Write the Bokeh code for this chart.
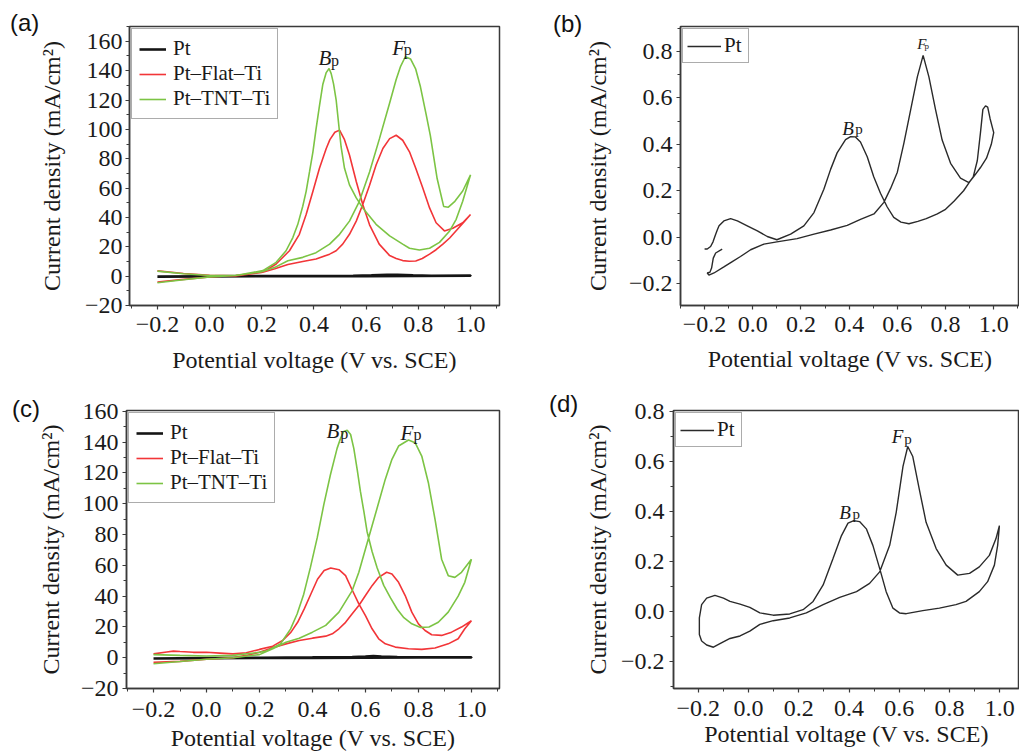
from bokeh.plotting import figure
from bokeh.layouts import column, row
from bokeh.models import FixedTicker, Legend, LegendItem, Label, Range1d, Div
from bokeh.embed import file_html
from bokeh.resources import INLINE

SERIF = "Liberation Serif"
SANS = "Liberation Sans"
RED = "#f23538"
GREEN = "#7cc444"
BLACK = "#151515"
CURVE = "#2a2a2a"
FRAME = "#3a3a3a"

# ---------------- ticks / texts ----------------
X_TICKS = [-0.2, 0.0, 0.2, 0.4, 0.6, 0.8, 1.0]
X_TICK_LABELS = ["\u22120.2", "0.0", "0.2", "0.4", "0.6", "0.8", "1.0"]
X_MINOR = [-0.3, -0.1, 0.1, 0.3, 0.5, 0.7, 0.9, 1.1]
Y_TICKS_MA = [-20, 0, 20, 40, 60, 80, 100, 120, 140, 160]
Y_TICK_LABELS_MA = ["\u221220", "0", "20", "40", "60", "80", "100", "120", "140", "160"]
Y_MINOR_MA = [-10, 10, 30, 50, 70, 90, 110, 130, 150, 170]
Y_TICKS_SM = [-0.2, 0.0, 0.2, 0.4, 0.6, 0.8]
Y_TICK_LABELS_SM = ["\u22120.2", "0.0", "0.2", "0.4", "0.6", "0.8"]
Y_MINOR_SM = [-0.3, -0.1, 0.1, 0.3, 0.5, 0.7, 0.9]

X_TITLE = "Potential voltage (V vs. SCE)"
Y_TITLE = "Current density (mA/cm\u00b2)"
SERIES = ["Pt", "Pt\u2013Flat\u2013Ti", "Pt\u2013TNT\u2013Ti"]
PANEL_TAGS = ["(a)", "(b)", "(c)", "(d)"]

# ---------------- panel (a) ----------------
A_PT_FWD_V = [-0.2, 0.0, 0.2, 0.4, 0.55, 0.62, 0.68, 0.72, 0.78, 0.85, 1.0]
A_PT_FWD_J = [-0.3, -0.1, 0.0, 0.1, 0.3, 0.6, 1.0, 0.9, 0.5, 0.3, 0.4]
A_PT_BWD_V = [1.0, 0.8, 0.6, 0.4, 0.2, 0.0, -0.2]
A_PT_BWD_J = [0.3, 0.1, 0.0, -0.1, -0.1, -0.2, -0.3]

A_FLAT_FWD_V = [-0.2, -0.1, 0.0, 0.1, 0.2, 0.25, 0.3, 0.357, 0.408, 0.46, 0.485, 0.51, 0.536, 0.562,
                0.587, 0.613, 0.638, 0.664, 0.69, 0.715, 0.74, 0.766, 0.79, 0.817, 0.843, 0.868, 0.9,
                0.932, 0.97, 1.0]
A_FLAT_FWD_J = [-4.0, -2.2, -0.6, 0.4, 2.5, 5.0, 7.9, 10.0, 11.7, 15.0, 17.3, 21.8, 28.5, 37.5,
                48.8, 62.0, 75.7, 87.0, 93.7, 96.0, 92.6, 84.7, 73.5, 60.0, 46.5, 36.4, 30.8,
                32.6, 36.4, 42.0]
A_FLAT_BWD_V = [1.0, 0.975, 0.95, 0.92, 0.894, 0.868, 0.843, 0.815, 0.79, 0.765, 0.74, 0.715, 0.69,
                0.65, 0.613, 0.587, 0.562, 0.536, 0.517, 0.498, 0.48, 0.461, 0.447, 0.421, 0.396,
                0.37, 0.344, 0.306, 0.255, 0.204, 0.1, 0.0, -0.1, -0.2]
A_FLAT_BWD_J = [42.0, 37.0, 32.0, 26.0, 21.8, 18.0, 15.0, 12.0, 10.3, 10.2, 10.6, 12.0, 14.0,
                21.8, 35.0, 48.8, 64.5, 82.5, 93.0, 99.5, 98.0, 93.0, 87.0, 73.5, 57.8,
                42.0, 28.5, 17.3, 8.3, 2.7, 0.2, 0.6, 1.8, 3.6]

A_TNT_FWD_V = [-0.2, -0.1, 0.0, 0.1, 0.2, 0.25, 0.3, 0.357, 0.408, 0.46, 0.498, 0.536, 0.574, 0.613,
               0.651, 0.69, 0.715, 0.732, 0.75, 0.77, 0.79, 0.808, 0.83, 0.846, 0.872, 0.897, 0.915,
               0.94, 0.97, 1.0]
A_TNT_FWD_J = [-4.5, -2.5, -0.5, 0.5, 3.0, 6.0, 10.5, 12.8, 16.0, 21.8, 28.5, 37.5, 51.0, 71.0,
               93.7, 118.0, 134.0, 143.0, 149.5, 148.0, 141.0, 129.0, 110.0, 95.7, 66.5, 47.5, 47.0,
               51.0, 58.0, 69.0]
A_TNT_BWD_V = [1.0, 0.985, 0.97, 0.945, 0.92, 0.881, 0.843, 0.804, 0.766, 0.74, 0.69, 0.638, 0.587,
               0.562, 0.536, 0.517, 0.504, 0.495, 0.485, 0.475, 0.466, 0.458, 0.447, 0.434, 0.421,
               0.408, 0.396, 0.383, 0.37, 0.357, 0.338, 0.319, 0.293, 0.255, 0.204, 0.1, 0.0, -0.1, -0.2]
A_TNT_BWD_J = [69.0, 60.0, 51.0, 38.7, 30.8, 23.0, 19.0, 17.8, 19.0, 21.8, 27.4, 35.3, 46.5,
               53.3, 62.2, 73.5, 88.0, 103.0, 120.0, 131.0, 138.0, 141.5, 138.7, 130.8, 116.0,
               100.4, 84.7, 71.2, 57.8, 47.6, 35.3, 26.3, 17.3, 9.4, 3.8, 0.4, 0.4, 1.6, 3.4]

# ---------------- panel (b) ----------------
B_PT_FWD_V = [-0.127, -0.154, -0.164, -0.171, -0.178, -0.189, -0.182, -0.161, -0.12, -0.085, -0.051,
              -0.009, 0.046, 0.1, 0.184, 0.254, 0.323, 0.392, 0.447, 0.503, 0.544, 0.572, 0.6, 0.627,
              0.655, 0.683, 0.707, 0.731, 0.759, 0.786, 0.821, 0.862, 0.897, 0.915, 0.932, 0.945,
              0.955, 0.966, 0.975, 0.985, 1.0]
B_PT_FWD_J = [-0.051, -0.068, -0.09, -0.133, -0.151, -0.154, -0.163, -0.154, -0.128, -0.105, -0.083,
              -0.054, -0.03, -0.02, -0.006, 0.013, 0.031, 0.051, 0.077, 0.1, 0.15, 0.21, 0.28, 0.404,
              0.547, 0.69, 0.783, 0.69, 0.547, 0.418, 0.318, 0.254, 0.235, 0.26, 0.33, 0.45,
              0.55, 0.565, 0.56, 0.51, 0.45]
B_PT_BWD_V = [1.0, 0.99, 0.97, 0.945, 0.918, 0.9, 0.875, 0.835, 0.8, 0.766, 0.72, 0.685, 0.648, 0.615,
              0.585, 0.558, 0.53, 0.502, 0.475, 0.447, 0.425, 0.406, 0.385, 0.35, 0.323, 0.295, 0.254,
              0.212, 0.157, 0.1, 0.06, 0.019, -0.023, -0.064, -0.092, -0.12, -0.14, -0.147, -0.154,
              -0.165, -0.175, -0.189, -0.2]
B_PT_BWD_J = [0.45, 0.4, 0.34, 0.3, 0.262, 0.238, 0.2, 0.155, 0.12, 0.1, 0.08, 0.068, 0.058, 0.065,
              0.085, 0.13, 0.189, 0.26, 0.346, 0.41, 0.432, 0.433, 0.42, 0.363, 0.292, 0.206, 0.106,
              0.049, 0.013, -0.011, 0.003, 0.027, 0.049, 0.07, 0.08, 0.07, 0.049, 0.032, 0.013,
              -0.02, -0.04, -0.051, -0.051]

# ---------------- panel (c) ----------------
C_PT_FWD_V = [-0.2, 0.0, 0.2, 0.4, 0.55, 0.6, 0.63, 0.66, 0.72, 0.85, 1.0]
C_PT_FWD_J = [-0.5, -0.2, 0.0, 0.2, 0.4, 0.7, 1.1, 0.8, 0.4, 0.3, 0.3]
C_PT_BWD_V = [1.0, 0.8, 0.6, 0.4, 0.2, 0.0, -0.2]
C_PT_BWD_J = [0.2, 0.1, 0.0, -0.1, -0.2, -0.3, -0.5]

C_FLAT_FWD_V = [-0.2, -0.1, 0.0, 0.1, 0.15, 0.2, 0.25, 0.3, 0.35, 0.4, 0.45, 0.475, 0.5, 0.525, 0.55,
                0.575, 0.6, 0.625, 0.65, 0.68, 0.7, 0.725, 0.75, 0.775, 0.8, 0.825, 0.85, 0.8875,
                0.925, 0.9625, 1.0]
C_FLAT_FWD_J = [-3.0, -2.4, -1.0, 0.0, 1.5, 3.5, 6.5, 9.0, 11.2, 12.7, 14.0, 15.5, 18.8, 23.0, 28.5,
                33.9, 40.4, 46.8, 52.2, 55.5, 54.4, 49.0, 40.4, 29.6, 22.0, 17.7, 14.9, 14.5,
                16.6, 19.9, 24.0]
C_FLAT_BWD_V = [1.0, 0.975, 0.95, 0.9125, 0.8625, 0.8125, 0.7625, 0.7125, 0.675, 0.65, 0.625, 0.6,
                0.575, 0.55, 0.525, 0.5, 0.469, 0.444, 0.419, 0.394, 0.369, 0.344, 0.319, 0.2875,
                0.25, 0.2, 0.15, 0.1, 0.05, 0.0, -0.05, -0.1, -0.125, -0.15, -0.2]
C_FLAT_BWD_J = [24.0, 18.8, 12.3, 9.0, 6.3, 5.4, 5.8, 6.9, 9.0, 12.3, 18.8, 27.4,
                35.0, 44.0, 53.3, 57.2, 58.3, 56.6, 51.0, 41.4, 31.7, 23.0, 16.6, 11.2,
                7.5, 5.4, 3.2, 2.5, 3.0, 3.5, 3.5, 4.0, 4.3, 3.7, 2.5]

C_TNT_FWD_V = [-0.2, -0.1, 0.0, 0.1, 0.2, 0.25, 0.3, 0.35, 0.4, 0.45, 0.5, 0.55, 0.575, 0.6, 0.625,
               0.65, 0.675, 0.7, 0.725, 0.7625, 0.7875, 0.8125, 0.8375, 0.8625, 0.8875, 0.9125,
               0.9375, 0.9625, 1.0]
C_TNT_FWD_J = [-3.9, -2.5, -1.0, 0.0, 2.0, 5.8, 10.0, 12.7, 16.6, 21.0, 29.6, 43.6, 55.5, 70.6, 85.7,
               100.8, 116.0, 128.9, 137.5, 141.4, 139.7, 131.0, 113.7, 90.0, 64.0, 53.3,
               52.2, 55.5, 64.0]
C_TNT_BWD_V = [1.0, 0.975, 0.95, 0.9125, 0.875, 0.84, 0.808, 0.775, 0.745, 0.72, 0.694, 0.669, 0.644,
               0.625, 0.606, 0.594, 0.581, 0.569, 0.556, 0.544, 0.531, 0.518, 0.505, 0.493, 0.468,
               0.443, 0.418, 0.392, 0.367, 0.342, 0.317, 0.279, 0.229, 0.2, 0.1, 0.0, -0.1, -0.2]
C_TNT_BWD_J = [64.0, 49.0, 40.0, 29.6, 23.0, 20.0, 19.7, 22.0, 26.0, 31.5, 39.0, 47.0, 58.5,
               69.0, 82.0, 95.0, 108.0, 122.0, 136.0, 145.0, 147.8, 147.0, 142.0, 136.0, 119.0,
               99.6, 78.0, 58.5, 41.3, 28.4, 18.6, 8.9, 4.5, 3.5, 1.5, 1.1, 1.5, 2.0]

# ---------------- panel (d) ----------------
D_PT_FWD_V = [-0.187, -0.167, -0.14, -0.114, -0.074, -0.034, 0.005, 0.045, 0.098, 0.164, 0.23, 0.297,
              0.363, 0.43, 0.482, 0.522, 0.562, 0.588, 0.615, 0.634, 0.654, 0.68, 0.707, 0.747, 0.787,
              0.833, 0.88, 0.919, 0.959, 0.985, 0.999]
D_PT_FWD_J = [-0.117, -0.133, -0.142, -0.128, -0.107, -0.097, -0.078, -0.051, -0.036, -0.025, -0.005,
              0.028, 0.057, 0.08, 0.113, 0.159, 0.265, 0.397, 0.581, 0.66, 0.62, 0.489, 0.357, 0.252,
              0.186, 0.146, 0.153, 0.179, 0.225, 0.291, 0.344]
D_PT_BWD_V = [0.999, 0.992, 0.979, 0.952, 0.919, 0.866, 0.826, 0.76, 0.694, 0.628, 0.601, 0.575,
              0.548, 0.522, 0.495, 0.469, 0.442, 0.419, 0.396, 0.37, 0.336, 0.297, 0.257, 0.217,
              0.164, 0.098, 0.045, 0.005, -0.034, -0.074, -0.1, -0.134, -0.167, -0.187, -0.196,
              -0.196, -0.187]
D_PT_BWD_J = [0.344, 0.265, 0.186, 0.12, 0.08, 0.041, 0.028, 0.014, 0.004, -0.008, -0.005, 0.014,
              0.08, 0.173, 0.265, 0.331, 0.36, 0.364, 0.354, 0.304, 0.212, 0.107, 0.041, 0.008,
              -0.009, -0.014, -0.005, 0.017, 0.03, 0.041, 0.054, 0.065, 0.054, 0.028, -0.025,
              -0.091, -0.117]

# ---------------- peak labels: (letter, x, y, size, sub x, sub y, sub size) ----------------
PEAKS_A = [("B", 0.417, 148.5, "21px", 0.465, 147.0, "16px"),
           ("F", 0.700, 155.3, "21px", 0.744, 154.3, "16px")]
PEAKS_B = [("B", 0.371, 0.468, "19px", 0.425, 0.466, "15px"),
           ("F", 0.683, 0.833, "15px", 0.713, 0.821, "9px")]
PEAKS_C = [("B", 0.453, 147.0, "21px", 0.505, 145.6, "16px"),
           ("F", 0.732, 146.0, "21px", 0.781, 145.0, "16px")]
PEAKS_D = [("B", 0.361, 0.396, "19px", 0.414, 0.389, "15px"),
           ("F", 0.570, 0.700, "19px", 0.620, 0.689, "15px")]


def tag_div(text, width, pad_top, pad_left):
    html = ('<div style="padding-top:%dpx;padding-left:%dpx;font-family:\'Liberation Sans\';'
            'font-size:24px;line-height:1.15;color:#111;white-space:nowrap;overflow:visible;">%s</div>'
            % (pad_top, pad_left, text))
    return Div(text=html, width=width, height=378, margin=(0, 0, 0, 0),
               styles={"overflow": "visible"})


def make_panel(w, h, borders, xr, yr, yticks, ylabels, yminor, ystand, xstand):
    bl, br, bt, bb = borders
    p = figure(width=w, height=h, x_range=Range1d(*xr), y_range=Range1d(*yr),
               min_border_left=bl, min_border_right=br, min_border_top=bt, min_border_bottom=bb,
               output_backend="svg", toolbar_location=None, title=None)
    p.xgrid.visible = False
    p.ygrid.visible = False
    p.background_fill_color = "white"
    p.border_fill_color = "white"
    p.border_fill_alpha = 0.0
    p.outline_line_color = FRAME
    p.outline_line_width = 1.5

    xa = p.xaxis[0]
    ya = p.yaxis[0]
    xa.ticker = FixedTicker(ticks=X_TICKS, minor_ticks=X_MINOR)
    xa.major_label_overrides = dict(zip(X_TICKS, X_TICK_LABELS))
    ya.ticker = FixedTicker(ticks=yticks, minor_ticks=yminor)
    ya.major_label_overrides = dict(zip(yticks, ylabels))
    xa.axis_label = X_TITLE
    ya.axis_label = Y_TITLE
    for ax in (xa, ya):
        ax.axis_line_color = FRAME
        ax.axis_line_width = 1.5
        ax.major_tick_line_color = FRAME
        ax.minor_tick_line_color = FRAME
        ax.major_tick_line_width = 1.2
        ax.minor_tick_line_width = 1.0
        ax.major_tick_in = 0
        ax.major_tick_out = 4
        ax.minor_tick_in = 0
        ax.minor_tick_out = 3
        ax.major_label_text_font = SERIF
        ax.major_label_text_font_size = "24px"
        ax.major_label_text_color = "#1a1a1a"
        ax.axis_label_text_font = SERIF
        ax.axis_label_text_font_size = "24px"
        ax.axis_label_text_font_style = "normal"
        ax.axis_label_text_color = "#1a1a1a"
    ya.major_label_standoff = ystand[0]
    ya.axis_label_standoff = ystand[1]
    xa.major_label_standoff = xstand[0]
    xa.axis_label_standoff = xstand[1]
    return p


def add_peaks(p, peaks):
    for (t, x, y, s, sx, sy, ss) in peaks:
        p.add_layout(Label(x=x, y=y, text=t, text_font=SERIF, text_font_style="italic",
                           text_font_size=s, text_baseline="alphabetic", text_align="left",
                           text_color="#1a1a1a"))
        p.add_layout(Label(x=sx, y=sy, text="p", text_font=SERIF, text_font_style="normal",
                           text_font_size=ss, text_baseline="alphabetic", text_align="left",
                           text_color="#1a1a1a"))


def legend_for(p, items, glyph_w, pad, standoff):
    lg = Legend(items=items, location="top_left")
    lg.margin = 2
    lg.padding = pad
    lg.spacing = 0
    lg.glyph_width = glyph_w
    lg.glyph_height = 20
    lg.label_height = 20
    lg.label_standoff = standoff
    lg.label_text_font = SERIF
    lg.label_text_font_size = "21px"
    lg.label_text_color = "#1a1a1a"
    lg.border_line_color = "#5a5a5a"
    lg.border_line_width = 1
    lg.background_fill_color = "white"
    lg.background_fill_alpha = 1.0
    p.add_layout(lg)


def three_series(p, pt, flat, tnt):
    r_pt = p.line(pt[0] + pt[2], pt[1] + pt[3], line_color=BLACK, line_width=2.6)
    r_flat = p.line(flat[0] + flat[2], flat[1] + flat[3], line_color=RED, line_width=1.6)
    r_tnt = p.line(tnt[0] + tnt[2], tnt[1] + tnt[3], line_color=GREEN, line_width=1.6)
    items = [LegendItem(label=SERIES[0], renderers=[r_pt]),
             LegendItem(label=SERIES[1], renderers=[r_flat]),
             LegendItem(label=SERIES[2], renderers=[r_tnt])]
    legend_for(p, items, 27, 7, 7)


# (a)
pa = make_panel(511, 378, (95, 46, 23, 73), (-0.307, 1.111), (-20.0, 170.1),
                Y_TICKS_MA, Y_TICK_LABELS_MA, Y_MINOR_MA, (3, 17), (7, 12))
three_series(pa, (A_PT_FWD_V, A_PT_FWD_J, A_PT_BWD_V, A_PT_BWD_J),
             (A_FLAT_FWD_V, A_FLAT_FWD_J, A_FLAT_BWD_V, A_FLAT_BWD_J),
             (A_TNT_FWD_V, A_TNT_FWD_J, A_TNT_BWD_V, A_TNT_BWD_J))
add_peaks(pa, PEAKS_A)

# (b)
pb = make_panel(439, 378, (100, 0, 26, 72), (-0.300, 1.107), (-0.294, 0.907),
                Y_TICKS_SM, Y_TICK_LABELS_SM, Y_MINOR_SM, (4, 15), (7, 11))
rb = pb.line(B_PT_FWD_V + B_PT_BWD_V, B_PT_FWD_J + B_PT_BWD_J, line_color=CURVE, line_width=1.4)
legend_for(pb, [LegendItem(label=SERIES[0], renderers=[rb])], 34, 4, 3)
add_peaks(pb, PEAKS_B)

# (c)
pc = make_panel(511, 378, (92, 46, 31, 68), (-0.302, 1.106), (-20.0, 160.6),
                Y_TICKS_MA, Y_TICK_LABELS_MA, Y_MINOR_MA, (4, 14), (9, 5))
three_series(pc, (C_PT_FWD_V, C_PT_FWD_J, C_PT_BWD_V, C_PT_BWD_J),
             (C_FLAT_FWD_V, C_FLAT_FWD_J, C_FLAT_BWD_V, C_FLAT_BWD_J),
             (C_TNT_FWD_V, C_TNT_FWD_J, C_TNT_BWD_V, C_TNT_BWD_J))
add_peaks(pc, PEAKS_C)

# (d)
pd = make_panel(438, 378, (91, 0, 32, 65), (-0.299, 1.079), (-0.307, 0.804),
                Y_TICKS_SM, Y_TICK_LABELS_SM, Y_MINOR_SM, (5, 7), (8, 2))
rd = pd.line(D_PT_FWD_V + D_PT_BWD_V, D_PT_FWD_J + D_PT_BWD_J, line_color=CURVE, line_width=1.4)
legend_for(pd, [LegendItem(label=SERIES[0], renderers=[rd])], 34, 4, 3)
add_peaks(pd, PEAKS_D)

top = row(tag_div(PANEL_TAGS[0], 34, 9, 10), pa, tag_div(PANEL_TAGS[1], 35, 10, 8), pb, spacing=0)
bottom = row(tag_div(PANEL_TAGS[2], 34, 17, 12), pc, tag_div(PANEL_TAGS[3], 36, 12, 4), pd, spacing=0)
layout = column(top, bottom, spacing=0)
open("out.html", "w").write(file_html(layout, INLINE))
